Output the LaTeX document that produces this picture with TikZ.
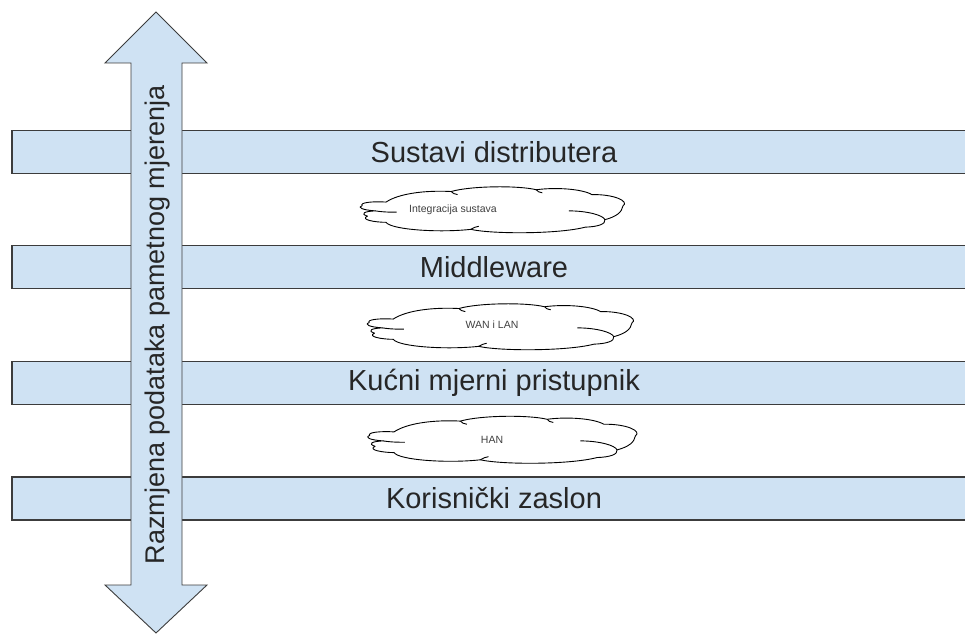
\documentclass[tikz,border=0pt]{standalone}
\usepackage{fontspec}
\setmainfont{Liberation Sans}
\definecolor{layerblue}{HTML}{CFE2F3}
\definecolor{layeredge}{HTML}{3C3C3C}
\begin{document}
\begin{tikzpicture}[
			x=1pt, y=1pt,
			layer/.style={rectangle, draw=layeredge, line width=1.6pt, fill=layerblue, minimum width=964pt, minimum height=43pt, inner sep=0pt, font=\fontsize{29}{33}\selectfont, text=black!85},
			linktext/.style={font=\fontsize{10.5}{12}\selectfont, text=black!75},
			netcloud/.pic={
					\draw[black, line width=0.9pt, fill=white, line join=round]
					(-0.40,0.18) .. controls (-0.35,0.38) and (-0.25,0.45) .. (-0.154,0.42)
					.. controls (-0.08,0.55) and (0.10,0.56) .. (0.167,0.46)
					.. controls (0.24,0.52) and (0.34,0.48) .. (0.377,0.35)
					.. controls (0.46,0.36) and (0.52,0.20) .. (0.494,0.09)
					.. controls (0.49,-0.05) and (0.47,-0.15) .. (0.426,-0.22)
					.. controls (0.43,-0.32) and (0.40,-0.38) .. (0.352,-0.39)
					.. controls (0.25,-0.55) and (0.0,-0.55) .. (-0.08,-0.44)
					.. controls (-0.2,-0.52) and (-0.38,-0.45) .. (-0.40,-0.28)
					.. controls (-0.44,-0.28) and (-0.50,-0.22) .. (-0.47,-0.14)
					.. controls (-0.50,-0.08) and (-0.48,-0.03) .. (-0.44,-0.02)
					.. controls (-0.49,0.00) and (-0.51,0.06) .. (-0.49,0.10)
					.. controls (-0.50,0.17) and (-0.45,0.20) .. cycle;
					\draw[black, line width=0.9pt] (-0.44,-0.02) .. controls (-0.41,-0.05) and (-0.38,-0.05) .. (-0.36,-0.05);
					\draw[black, line width=0.9pt] (0.29,-0.02) .. controls (0.36,-0.02) and (0.42,-0.12) .. (0.426,-0.22);
					\draw[black, line width=0.9pt] (-0.154,0.42) .. controls (-0.15,0.38) and (-0.14,0.36) .. (-0.13,0.35);
					\draw[black, line width=0.9pt] (0.167,0.46) .. controls (0.17,0.42) and (0.18,0.40) .. (0.19,0.39);
					\draw[black, line width=0.9pt] (-0.08,-0.44) .. controls (-0.07,-0.40) and (-0.06,-0.38) .. (-0.05,-0.37);
				}
		]
		\useasboundingbox (0,0) rectangle (965,634);
		\clip (0,0) rectangle (965,634);
		% layers
		\node[layer] (dist) at (494,482) {Sustavi distributera};
		\node[layer] (middle) at (494,367) {Middleware};
		\node[layer] (gateway) at (494,251) {Kućni mjerni pristupnik};
		\node[layer] (display) at (494,135.5) {Korisnički zaslon};

		% networks between layers
		\pic[xscale=265, yscale=44] (integ) at (492,424) {netcloud};
		\node[linktext] (integtext) at (453,424) {Integracija sustava};
		\pic[xscale=267, yscale=44] (wan) at (500,307) {netcloud};
		\node[linktext] (wantext) at (492,309) {WAN i LAN};
		\pic[xscale=270, yscale=45] (han) at (502,194) {netcloud};
		\node[linktext] (hantext) at (492,194) {HAN};

		% exchange arrow
		\draw[layeredge, fill=layerblue, line width=0.9pt] (156,622) -- (207,571) -- (182,571) -- (182,49) -- (207,49) -- (156,1) -- (105,49) -- (131,49) -- (131,571) -- (105,571) -- cycle;
		\node[rotate=90, font=\fontsize{27}{31}\selectfont, text=black!85] (razmjena) at (158,309) {Razmjena podataka pametnog mjerenja};
	\end{tikzpicture}
\end{document}
